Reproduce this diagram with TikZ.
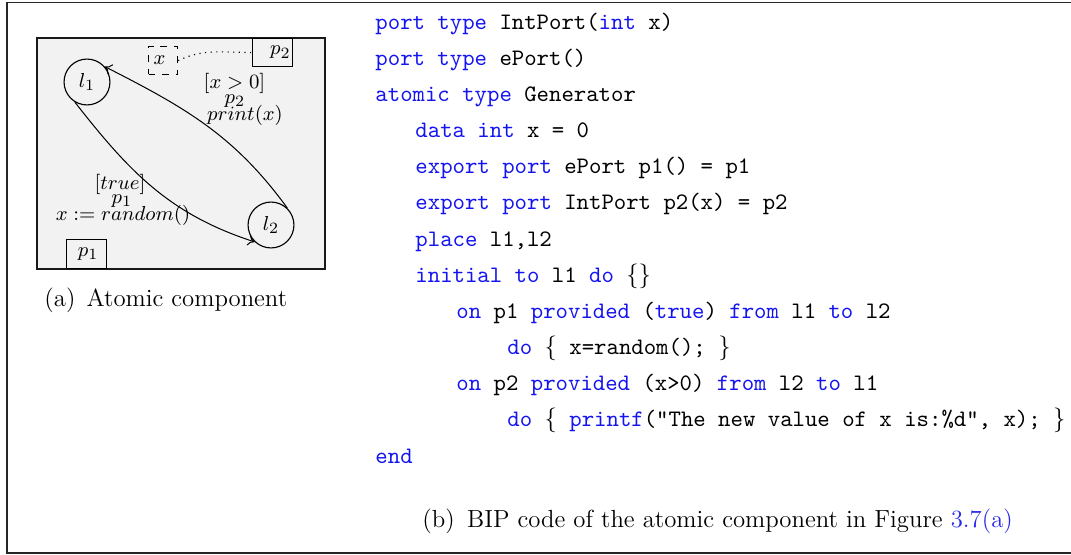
\documentclass[tikz,border=0pt]{standalone}
\usetikzlibrary{arrows.meta}
\definecolor{kwblue}{RGB}{20,20,240}
\definecolor{linkblue}{RGB}{40,40,235}
\definecolor{compfill}{RGB}{242,242,242}
\DeclareMathSizes{8.8}{8.8}{7.4}{6}
\DeclareMathSizes{9.5}{9.5}{7.2}{6}
\newcommand\kw[1]{\textcolor{kwblue}{#1}}
\tikzset{
  frameline/.style={draw=black!85, line width=0.6pt},
  comp/.style={draw=black!90, line width=0.8pt, fill=compfill},
  loc/.style={circle, draw, line width=0.5pt, minimum size=20.4pt, inner sep=0pt, font=\fontsize{9.5}{11}\selectfont},
  portbox/.style={draw, line width=0.5pt, inner ysep=0pt, font=\fontsize{8.8}{10}\selectfont},
  lbl/.style={inner sep=0pt, font=\fontsize{8.8}{10}\selectfont},
  codeline/.style={anchor=base west, inner sep=0pt, font=\fontsize{10.5}{12}\selectfont\ttfamily},
  trans/.style={-{To[length=3pt,width=5pt]}, line width=0.45pt},
  caption/.style={anchor=base west, inner sep=0pt, font=\fontsize{11}{13}\selectfont}
}
\begin{document}
\begin{tikzpicture}[x=0.4444pt, y=0.4444pt]
\useasboundingbox (0,0) rectangle (1071,554);
% outer frame
\draw[frameline] (1071,551.3) -- (7,551.3) -- (7,1) -- (1071,1);
% component
\draw[comp] (37,285) rectangle (325,516);
\node[loc] (l1) at (87,472) {$l_1$};
\node[loc] (l2) at (271,329) {$l_2$};
\node[portbox, anchor=north east, minimum width=17.8pt, minimum height=12.4pt, inner xsep=0.8pt, text width=16.2pt, align=right] (p2box) at (293,516) {$p_2$};
\node[portbox, anchor=south west, minimum width=17.8pt, minimum height=12.9pt, inner xsep=3.6pt, text width=10.6pt, align=right] (p1box) at (66,285) {$p_1$};
\node[portbox, dashed, anchor=north west, minimum width=12.9pt, minimum height=12.4pt, inner xsep=2.2pt, text width=8.5pt, align=left] (xbox) at (148,508) {$x$};
\draw[dotted, line width=0.5pt] (xbox.east) to[out=25,in=180] (p2box.west);
% transitions
\draw[trans] (l1.239) to[out=-52,in=162] (l2.226);
\draw[trans] (l2.46) to[out=126,in=-27] (l1.41);
\node[lbl] (g2) at (234.5,471) {$[x>0]$};
\node[lbl] (q2) at (235,453) {$p_2$};
\node[lbl] (a2) at (245,439) {$print(x)$};
\node[lbl] (g1) at (120,370) {$[true]$};
\node[lbl] (q1) at (122,353) {$p_1$};
\node[lbl] (a1) at (123,339) {$x:=random()$};
\node[caption] (capa) at (44,248) {(a)\hspace{0.45em}Atomic component};
% code
\node[codeline] (c1) at (375,525) {\kw{port type} IntPort(\kw{int} x)};
\node[codeline] (c2) at (375,488.8) {\kw{port type} ePort()};
\node[codeline] (c3) at (375,452.7) {\kw{atomic type} Generator};
\node[codeline] (c4) at (415,416.5) {\kw{data int} x = 0};
\node[codeline] (c5) at (415,380.3) {\kw{export port} ePort p1() = p1};
\node[codeline] (c6) at (415,344.2) {\kw{export port} IntPort p2(x) = p2};
\node[codeline] (c7) at (415,308) {\kw{place} l1,l2};
\node[codeline] (c8) at (415,271.8) {\kw{initial to} l1 \kw{do} $\{\}$};
\node[codeline] (c9) at (456,235.6) {\kw{on} p1 \kw{provided} (\kw{true}) \kw{from} l1 \kw{to} l2};
\node[codeline] (c10) at (507,199.5) {\kw{do} $\{$ x=random(); $\}$};
\node[codeline] (c11) at (456,163.3) {\kw{on} p2 \kw{provided} (x>0) \kw{from} l2 \kw{to} l1};
\node[codeline] (c12) at (507,127.1) {\kw{do} $\{$ \kw{printf}("The new value of x is:\%d", x); $\}$};
\node[codeline] (c13) at (375,91) {\kw{end}};
\node[caption] (capb) at (422,27) {(b)\hspace{0.5em}BIP code of the atomic component in Figure \textcolor{linkblue}{3.7(a)}};
\end{tikzpicture}
\end{document}
